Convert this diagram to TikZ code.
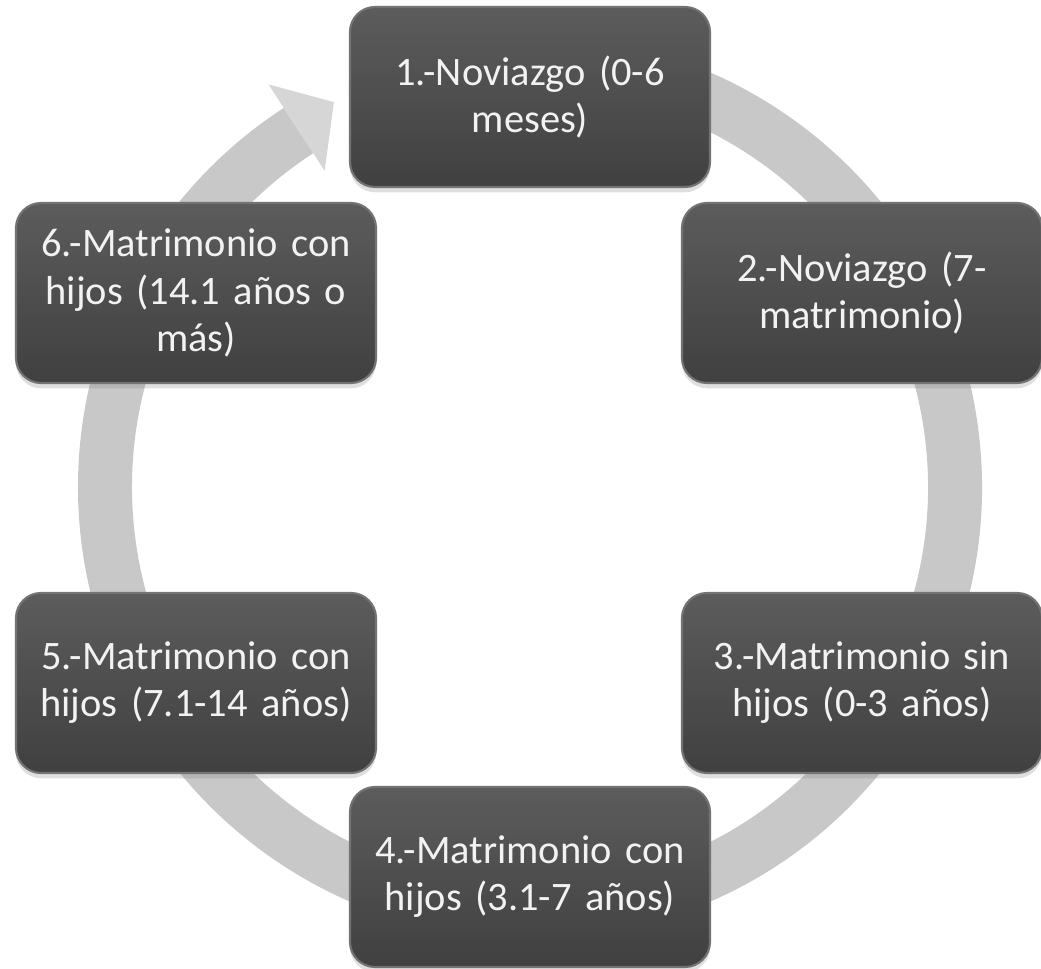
\documentclass[tikz,border=0pt]{standalone}
\usepackage{fontspec}
\setmainfont{Carlito}[WordSpace=0.6]
\definecolor{boxtop}{RGB}{92, 92, 92}
\definecolor{boxbottom}{RGB}{64, 64, 64}
\definecolor{boxrim}{RGB}{115, 115, 115}
\definecolor{ringgray}{RGB}{200, 200, 200}
\definecolor{headgray}{RGB}{214, 214, 214}
\usetikzlibrary{shadows}

\tikzset{
  stagebox/.style={rounded corners=0.5cm, minimum width=7.2cm, minimum height=3.6cm,
    top color=boxtop, bottom color=boxbottom, draw=boxrim, line width=1.2pt,
    text=white!95!black, align=center, text width=6.8cm,
    font=\fontsize{23}{26.8}\selectfont,
    drop shadow={opacity=0.25, shadow xshift=0pt, shadow yshift=-3pt}}
}

\begin{document}
\begin{tikzpicture}
  \useasboundingbox (-10.6,-9.64) rectangle (10.22,9.74);

  % Ring with arrow
  \draw[line width=1.08cm, ringgray] (100:8.5) arc (100:-237:8.5);
  \fill[headgray] (123:7.54) -- (117:8.64) -- (123:9.6) -- cycle;

  % Stages
  \node[stagebox] (s1) at (0, 7.8) {1.-Noviazgo (0-6\\meses)};
  \node[stagebox] (s2) at (6.64, 3.88) {2.-Noviazgo (7-\\matrimonio)};
  \node[stagebox] (s3) at (6.64, -3.92) {3.-Matrimonio sin\\hijos (0-3 años)};
  \node[stagebox] (s4) at (0, -7.8) {4.-Matrimonio con\\hijos (3.1-7 años)};
  \node[stagebox] (s5) at (-6.68, -3.92) {5.-Matrimonio con\\hijos (7.1-14 años)};
  \node[stagebox] (s6) at (-6.68, 3.88) {6.-Matrimonio con\\hijos (14.1 años o\\más)};
\end{tikzpicture}
\end{document}
